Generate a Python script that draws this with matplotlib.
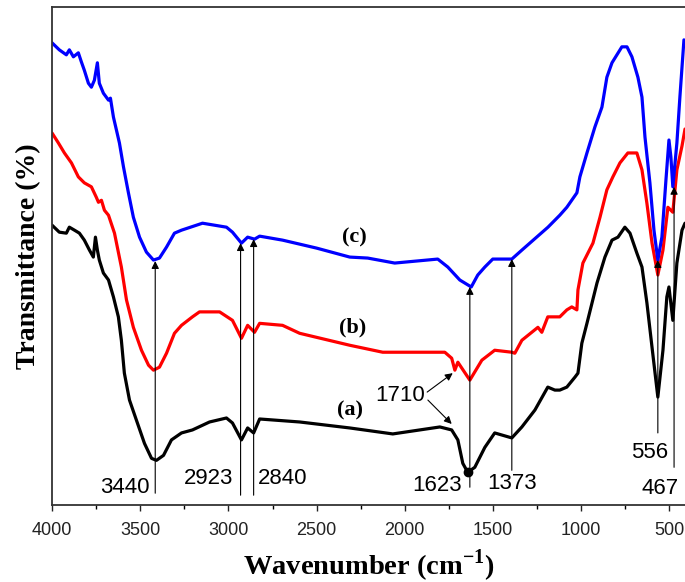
import numpy as np
import matplotlib
matplotlib.use("Agg")
import matplotlib.pyplot as plt

plt.rcParams["mathtext.fontset"] = "custom"
plt.rcParams["mathtext.rm"] = "Liberation Serif"
plt.rcParams["mathtext.bf"] = "Liberation Serif:bold"

# ---- spectra (wavenumber cm-1, transmittance in arbitrary %) ----
wn_c = [4000, 3959, 3919, 3902, 3879, 3851, 3834, 3817, 3794, 3777, 3760, 3743, 3732,
        3709, 3680, 3669, 3652, 3635, 3618, 3595, 3567, 3539, 3504, 3465, 3425, 3391,
        3351, 3306, 3266, 3147, 3011, 2977, 2926, 2891, 2852, 2823, 2693, 2500, 2312,
        2210, 2057, 1813, 1756, 1688, 1623, 1586, 1546, 1501, 1472, 1393, 1336, 1188,
        1121, 1081, 1024, 1007, 967, 922, 882, 854, 825, 797, 769, 740, 712, 678, 655,
        638, 610, 587, 565, 542, 519, 502, 491, 480, 457, 440, 417]
t_c = [92.8, 91.4, 90.4, 91.4, 90.0, 90.8, 89.0, 87.3, 84.7, 83.9, 85.3, 88.8, 84.7,
       82.7, 81.3, 81.7, 77.9, 75.3, 72.7, 67.9, 62.7, 57.8, 53.8, 50.8, 49.2, 49.6,
       51.8, 54.6, 55.2, 56.6, 55.8, 54.8, 52.6, 53.8, 53.4, 54.0, 53.2, 51.6, 49.8,
       49.6, 48.6, 49.4, 47.8, 45.2, 43.8, 46.2, 47.8, 49.4, 49.4, 49.4, 51.2, 55.8,
       58.2, 59.8, 62.7, 65.9, 70.7, 75.9, 79.9, 85.9, 88.8, 90.4, 92.0, 92.0, 90.0,
       85.9, 81.9, 73.9, 64.7, 55.2, 49.2, 53.8, 65.3, 73.3, 69.9, 63.9, 72.7, 81.9, 93.4]

wn_b = [4000, 3964, 3930, 3890, 3851, 3817, 3777, 3749, 3737, 3720, 3703, 3680, 3646,
        3607, 3578, 3539, 3493, 3453, 3425, 3391, 3351, 3306, 3266, 3204, 3164, 3050,
        2977, 2926, 2891, 2852, 2823, 2693, 2596, 2312, 2125, 1773, 1734, 1716, 1699,
        1631, 1563, 1490, 1393, 1376, 1336, 1245, 1223, 1189, 1121, 1081, 1053, 1024,
        1018, 990, 933, 893, 854, 820, 780, 735, 684, 655, 627, 598, 565, 536, 508,
        480, 457, 428, 411]
t_b = [74.7, 72.7, 70.7, 68.7, 65.9, 64.7, 63.9, 61.8, 60.8, 61.2, 59.2, 58.2, 54.6,
       47.8, 41.2, 35.7, 31.1, 28.1, 27.1, 27.7, 30.5, 34.5, 36.1, 37.8, 38.8, 38.8,
       37.1, 33.5, 36.1, 34.7, 36.5, 36.1, 34.5, 32.1, 30.7, 30.7, 29.5, 27.1, 28.7,
       25.1, 29.1, 31.1, 30.7, 30.5, 33.1, 35.7, 34.7, 37.8, 37.8, 39.2, 39.8, 39.2,
       43.2, 48.6, 52.6, 57.8, 63.3, 65.9, 68.7, 70.7, 70.7, 67.3, 60.6, 52.6, 46.2,
       51.2, 59.8, 58.8, 67.3, 72.1, 75.5]

wn_a = [4000, 3959, 3919, 3902, 3873, 3845, 3817, 3788, 3766, 3754, 3743, 3732, 3709,
        3680, 3652, 3624, 3607, 3590, 3561, 3522, 3476, 3436, 3408, 3368, 3323, 3266,
        3204, 3107, 3011, 2977, 2926, 2891, 2857, 2823, 2596, 2312, 2068, 1801, 1734,
        1699, 1671, 1643, 1603, 1546, 1490, 1393, 1336, 1262, 1189, 1149, 1121, 1081,
        1035, 1018, 996, 967, 910, 865, 825, 791, 752, 723, 684, 655, 627, 598, 565,
        536, 514, 502, 480, 457, 428, 411]
t_a = [56.2, 54.8, 54.6, 55.8, 55.2, 54.6, 53.2, 51.2, 49.8, 53.8, 51.2, 49.2, 46.6,
       45.2, 41.8, 37.8, 33.1, 26.5, 21.1, 17.1, 12.4, 9.4, 9.0, 10.0, 13.1, 14.5,
       15.1, 16.7, 17.5, 16.5, 13.1, 15.5, 14.5, 17.3, 16.7, 15.5, 14.3, 15.7, 15.1,
       13.1, 8.4, 6.6, 7.6, 11.6, 14.5, 13.5, 15.7, 19.1, 23.7, 23.1, 23.1, 23.7,
       25.7, 26.5, 32.5, 36.5, 44.6, 49.8, 53.2, 53.8, 55.8, 54.6, 50.6, 47.8, 40.6,
       31.7, 21.7, 31.1, 41.8, 43.8, 37.1, 48.6, 55.2, 56.6]

# ---- peak annotations: label, arrow x, arrow tail y, arrow tip y, label x, label y ----
peak_labels = ["3440", "2923", "2840", "1623", "1373", "556", "467"]
peak_x = [3415, 2931, 2857, 1631, 1393, 565, 473]
peak_tail = [2.4, 2.0, 2.0, 3.6, 7.0, 14.5, 7.6]
peak_tip = [49.0, 52.6, 53.4, 43.8, 49.4, 49.2, 63.9]
label_x = [3590, 3112, 2692, 1819, 1393, 609, 552]
label_y = [3.6, 5.4, 5.4, 4.0, 4.4, 10.6, 3.4]

# 1710 shoulder: label position and the two arrow targets
shoulder_label = (2027, 22.1)
shoulder_tails = [(1873, 22.7), (1869, 21.1)]
shoulder_tips = [(1728, 26.5), (1734, 16.3)]

curve_names = ["(a)", "(b)", "(c)"]
curve_label_x = [2312, 2294, 2283]
curve_label_y = [19.1, 35.7, 53.8]

fig = plt.figure(figsize=(6.85, 5.82), dpi=100)
ax = fig.add_axes([0.076, 0.132, 0.924, 0.856])

for wn, t, col in [(wn_a, t_a, "black"), (wn_b, t_b, "#ff0000"), (wn_c, t_c, "#0000ff")]:
    ax.plot(wn, t, color=col, lw=2.3, solid_joinstyle="round", solid_capstyle="round")
ax.plot([1643], [6.6], "o", color="black", ms=6)

arrow = dict(arrowstyle="-|>", color="black", lw=0.8, mutation_scale=11,
             shrinkA=0, shrinkB=0)
for lab, x, y0, y1, lx, ly in zip(peak_labels, peak_x, peak_tail, peak_tip, label_x, label_y):
    ax.annotate("", xy=(x, y1), xytext=(x, y0), arrowprops=arrow)
    ax.text(lx, ly, lab, ha="center", va="center", fontsize=16,
            family="Liberation Sans")

ax.text(*shoulder_label, "1710", ha="center", va="center", fontsize=16,
        family="Liberation Sans")
for tail, tip in zip(shoulder_tails, shoulder_tips):
    ax.annotate("", xy=tip, xytext=tail, arrowprops=arrow)

for name, x, y in zip(curve_names, curve_label_x, curve_label_y):
    ax.text(x, y, name, ha="center", va="center", fontsize=16, fontweight="bold",
            family="Liberation Serif")

ax.set_xlim(4000, 411)
ax.set_ylim(0, 100)
ax.set_xticks([4000, 3500, 3000, 2500, 2000, 1500, 1000, 500])
ax.set_xticks(np.arange(3750, 400, -500), minor=True)
ax.set_yticks([])
ax.tick_params(axis="x", which="major", direction="out", length=4, width=1,
               labelsize=13, pad=8, colors="#222222")
ax.tick_params(axis="x", which="minor", direction="out", length=3, width=1)
for lbl in ax.get_xticklabels():
    lbl.set_family("Liberation Sans")
for side in ["left", "top", "bottom"]:
    ax.spines[side].set_linewidth(1.3)
    ax.spines[side].set_color("#333333")
ax.spines["right"].set_visible(False)

ax.set_xlabel("Wavenumber (cm$^{\\mathbf{-1}}$)", fontsize=20.5, fontweight="bold",
              family="Liberation Serif", labelpad=6)
ax.set_ylabel("Transmittance (%)", fontsize=20, fontweight="bold",
              family="Liberation Serif", labelpad=8)

fig.savefig("out.png", dpi=100)
